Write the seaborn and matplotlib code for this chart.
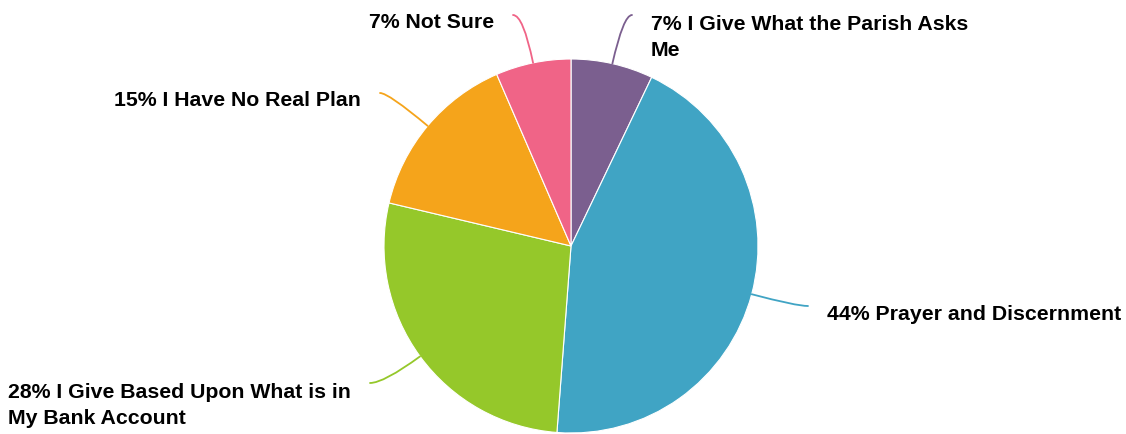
import seaborn as sns
import matplotlib.pyplot as plt
import numpy as np

# slice shares, clockwise from 12 o'clock
answers = ["I Give What the Parish Asks\nMe", "Prayer and Discernment",
           "I Give Based Upon What is in\nMy Bank Account", "I Have No Real Plan", "Not Sure"]
shares = [7.1, 44.1, 27.5, 14.8, 6.5]
shown_pct = [7, 44, 28, 15, 7]
colors = ["#7B5F8F", "#40A4C4", "#95C82A", "#F5A41B", "#F06487"]

sns.set_style("white")
plt.rcParams['font.family'] = ['Liberation Sans', 'DejaVu Sans']

W, H = 1126, 434
cx, cy, R = 571, 246, 187

fig = plt.figure(figsize=(W / 100, H / 100), dpi=100)
ax = fig.add_axes([(cx - R) / W, (H - cy - R) / H, 2 * R / W, 2 * R / H])

wedges, _ = ax.pie(shares, colors=colors, startangle=90, counterclock=False,
                   radius=1, wedgeprops=dict(edgecolor="white", linewidth=0.8))
ax.set_xlim(-1, 1)
ax.set_ylim(-1, 1)
ax.axis("off")


def px(x, y):
    # pixel position in the picture -> pie data units
    return (x - cx) / R, (cy - y) / R


# where each leader line ends, and which side the text sits on
line_ends = [(632, 15), (808, 306), (370, 383), (380, 93), (513, 15)]
sides = ["left", "left", "right", "right", "right"]
line_gap = 28  # px between text lines

for w, col, end, side, pct, name in zip(wedges, colors, line_ends, sides, shown_pct, answers):
    mid_deg = (w.theta1 + w.theta2) / 2
    mid = np.deg2rad(mid_deg)
    start = (np.cos(mid), np.sin(mid))
    ex, ey = px(*end)
    ax.annotate("", xy=start, xytext=(ex, ey), annotation_clip=False,
                arrowprops=dict(arrowstyle="-", color=col, lw=1.3,
                                shrinkA=0, shrinkB=0,
                                connectionstyle=f"angle3,angleA=0,angleB={mid_deg:.1f}"))
    gap = 19 / R
    tx = ex + gap if side == "left" else ex - gap
    extra = name.count("\n") * line_gap
    ax.text(tx, ey - (13.5 + extra) / R, f"{pct}% {name}", ha=side, va="baseline",
            multialignment="left", color="black",
            fontsize=15.3, fontweight="bold", linespacing=1.49, clip_on=False)

fig.savefig("out.png", dpi=100)
